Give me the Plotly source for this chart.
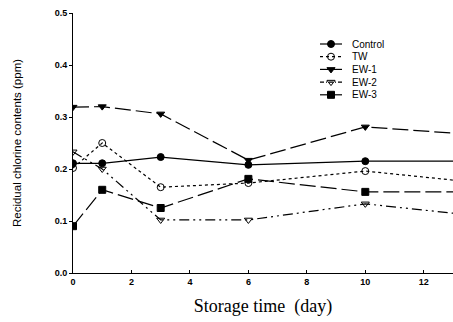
import plotly.graph_objects as go

days = [0, 1, 3, 6, 10, 14]
control = [0.211, 0.211, 0.223, 0.208, 0.215, 0.215]
tw = [0.202, 0.250, 0.165, 0.173, 0.196, 0.173]
ew1 = [0.319, 0.320, 0.306, 0.217, 0.281, 0.265]
ew2 = [0.233, 0.200, 0.102, 0.102, 0.133, 0.109]
ew3 = [0.090, 0.160, 0.125, 0.181, 0.156, 0.156]

names = ["Control", "TW", "EW-1", "EW-2", "EW-3"]
series = [control, tw, ew1, ew2, ew3]
symbols = ["circle", "circle-open", "triangle-down", "triangle-down-open", "square"]
dashes = ["solid", "dot", "16px,5px", "10px,4px,2px,4px,2px,4px", "16px,5px"]

W, H = 453, 322
ML, MR, MT, MB = 73, 0, 13, 49

fig = go.Figure()
for n, s, sym, d in zip(names, series, symbols, dashes):
    fig.add_trace(go.Scatter(
        x=days, y=s, name=n, mode="lines+markers", showlegend=False,
        line=dict(color="black", width=1.2, dash=d),
        marker=dict(symbol=sym, size=7, color="black", line=dict(color="black", width=1)),
    ))

# hand-made compact legend on an overlay axis measured in pixels
leg_x0, leg_x1, leg_y0, leg_dy = 320, 342, 44, 12.7
for i, (n, sym, d) in enumerate(zip(names, symbols, dashes)):
    yy = leg_y0 + i * leg_dy
    fig.add_trace(go.Scatter(
        x=[leg_x0, leg_x1], y=[yy, yy], mode="lines", xaxis="x2", yaxis="y2",
        showlegend=False, hoverinfo="skip",
        line=dict(color="black", width=1.2, dash="dot" if d == "dot" else ("4px,2px,1px,2px" if i == 3 else "solid")),
    ))
    fig.add_trace(go.Scatter(
        x=[(leg_x0 + leg_x1) / 2], y=[yy], mode="markers", xaxis="x2", yaxis="y2",
        showlegend=False, hoverinfo="skip",
        marker=dict(symbol=sym, size=7, color="black", line=dict(color="black", width=1)),
    ))
    fig.add_annotation(x=350, y=yy, xref="x2", yref="y2", text=n, showarrow=False,
                       xanchor="left", yanchor="middle",
                       font=dict(size=10, family="Liberation Sans, Arial", color="black"))

fig.update_layout(
    width=W, height=H,
    margin=dict(l=ML, r=MR, t=MT, b=MB, pad=0),
    paper_bgcolor="white", plot_bgcolor="white",
    font=dict(family="Liberation Sans, Arial", color="black"),
    showlegend=False,
    xaxis=dict(range=[0, 13], tickvals=[0, 2, 4, 6, 8, 10, 12], ticks="inside",
               ticklen=3, tickcolor="black", showline=True, linecolor="black",
               linewidth=1, showgrid=False, zeroline=False,
               tickfont=dict(size=9, family="Liberation Sans, Arial", weight="bold"),
               title=dict(text="Storage time  (day)", standoff=13,
                          font=dict(size=18, family="Liberation Serif, Times New Roman"))),
    yaxis=dict(range=[0, 0.5], tickvals=[0, 0.1, 0.2, 0.3, 0.4, 0.5], tickformat=".1f",
               ticks="outside", ticklen=3, tickcolor="black", showline=True,
               linecolor="black", linewidth=1, showgrid=False, zeroline=False,
               tickfont=dict(size=9, family="Liberation Sans, Arial", weight="bold"),
               title=dict(text="Recidual chlorine contents (ppm)", standoff=30,
                          font=dict(size=11.5, family="Liberation Sans, Arial"))),
    xaxis2=dict(overlaying="x", range=[ML, W - MR], visible=False, fixedrange=True),
    yaxis2=dict(overlaying="y", range=[H - MB, MT], visible=False, fixedrange=True),
)

fig.write_html("out.html", config={"displayModeBar": False},
               post_script="document.body.style.margin='0';")
